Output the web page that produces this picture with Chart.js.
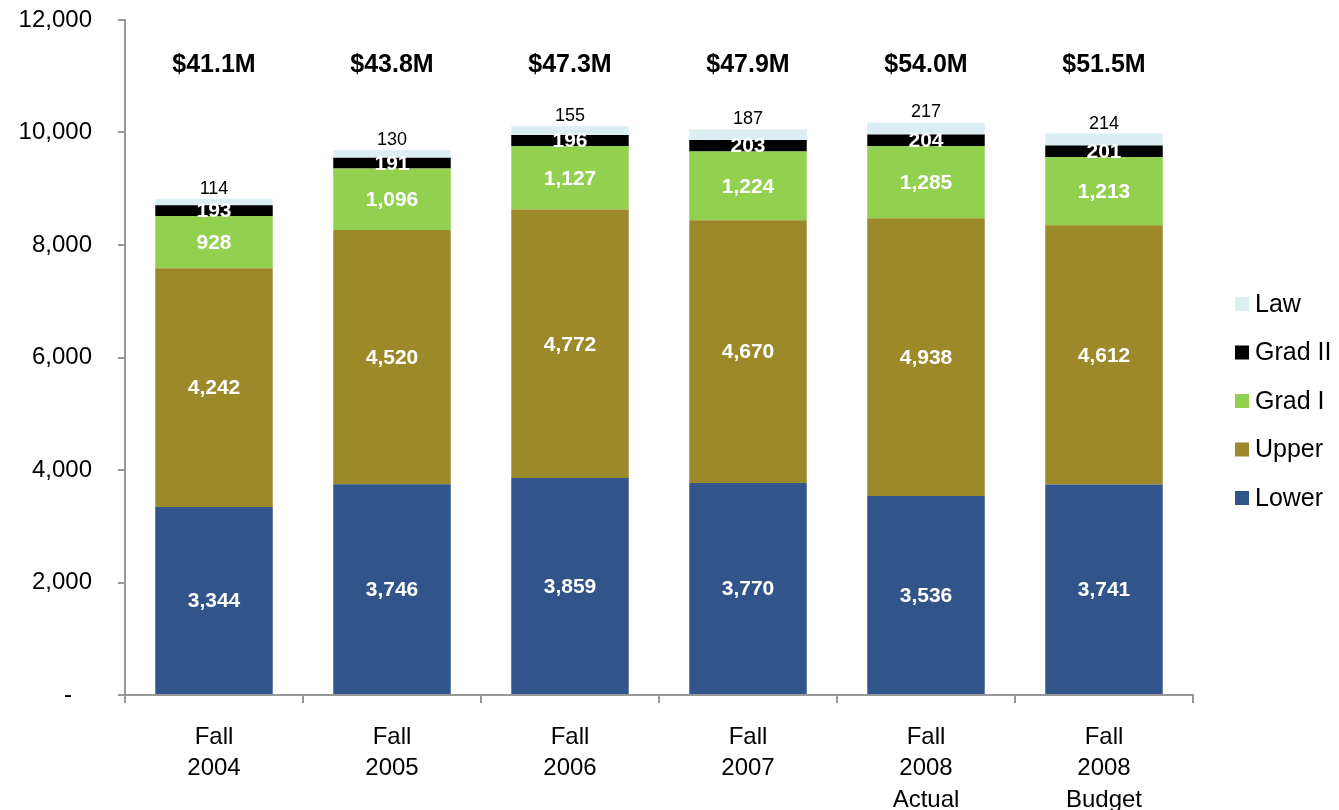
<!DOCTYPE html>
<html>
<head>
<meta charset="utf-8">
<script src="https://cdn.jsdelivr.net/npm/chart.js@4/dist/chart.umd.min.js"></script>
<style>
  html, body { margin: 0; padding: 0; background: #fff; }
  #wrap { width: 1339px; height: 810px; position: relative; }
</style>
</head>
<body>
<div id="wrap"><canvas id="chart"></canvas></div>
<script>
// data
const categories = [
  ['Fall', '2004'], ['Fall', '2005'], ['Fall', '2006'], ['Fall', '2007'],
  ['Fall', '2008', 'Actual'], ['Fall', '2008', 'Budget']
];
const lower = [3344, 3746, 3859, 3770, 3536, 3741];
const upper = [4242, 4520, 4772, 4670, 4938, 4612];
const gradI = [928, 1096, 1127, 1224, 1285, 1213];
const gradII = [193, 191, 196, 203, 204, 201];
const law = [114, 130, 155, 187, 217, 214];
const revenue = ['$41.1M', '$43.8M', '$47.3M', '$47.9M', '$54.0M', '$51.5M'];
const revenueLevel = 11200; // y value where the $ labels sit

const FONT = "'Liberation Sans', Arial, sans-serif";
const AXIS = '#999999';

// labels on the bars, $ totals on top, legend on the right
const labelPlugin = {
  id: 'labels',
  afterDatasetsDraw(chart) {
    const ctx = chart.ctx;
    ctx.save();
    ctx.textAlign = 'center';
    chart.data.datasets.forEach((ds, i) => {
      const meta = chart.getDatasetMeta(i);
      meta.data.forEach((bar, j) => {
        const txt = ds.data[j].toLocaleString('en-US');
        if (ds.label === 'Law') {
          ctx.fillStyle = '#000';
          ctx.font = '18px ' + FONT;
          ctx.textBaseline = 'bottom';
          ctx.fillText(txt, bar.x, bar.y - 1);
        } else {
          ctx.fillStyle = '#fff';
          ctx.font = 'bold 21px ' + FONT;
          ctx.textBaseline = 'middle';
          ctx.fillText(txt, bar.x, (bar.y + bar.base) / 2 + 1);
        }
      });
    });

    const yPos = chart.scales.y.getPixelForValue(revenueLevel);
    ctx.fillStyle = '#000';
    ctx.font = 'bold 25px ' + FONT;
    ctx.textBaseline = 'middle';
    chart.getDatasetMeta(0).data.forEach((bar, j) => {
      ctx.fillText(revenue[j], bar.x, yPos);
    });

    // legend, top item = last dataset
    ctx.textAlign = 'left';
    ctx.font = '25px ' + FONT;
    const sets = chart.data.datasets.slice().reverse();
    sets.forEach((ds, k) => {
      const cy = 304 + k * 48.5;
      ctx.fillStyle = ds.backgroundColor;
      ctx.fillRect(1235, cy - 7, 14, 14);
      ctx.fillStyle = '#000';
      ctx.fillText(ds.label, 1255, cy + 1);
    });
    ctx.restore();
  }
};

new Chart(document.getElementById('chart'), {
  type: 'bar',
  data: {
    labels: categories,
    datasets: [
      { label: 'Lower', data: lower, backgroundColor: '#31558A' },
      { label: 'Upper', data: upper, backgroundColor: '#9C8A2A' },
      { label: 'Grad I', data: gradI, backgroundColor: '#92D050' },
      { label: 'Grad II', data: gradII, backgroundColor: '#000000' },
      { label: 'Law', data: law, backgroundColor: '#DAEEF3' }
    ]
  },
  options: {
    responsive: true,
    maintainAspectRatio: false,
    animation: false,
    datasets: {
      bar: { barPercentage: 0.66, categoryPercentage: 1.0, borderWidth: 0 }
    },
    layout: { padding: { top: 20, right: 146, bottom: 0, left: 0 } },
    plugins: {
      legend: { display: false },
      tooltip: { enabled: false }
    },
    scales: {
      x: {
        stacked: true,
        grid: { offset: true, drawOnChartArea: false, drawTicks: true, tickLength: 8, color: AXIS, lineWidth: 2 },
        border: { display: true, color: AXIS, width: 2 },
        ticks: {
          color: '#000',
          padding: 19,
          maxRotation: 0,
          font: { family: FONT, size: 24, lineHeight: 1.3 }
        },
        afterFit(scale) {
          scale.height = 115;
          scale.paddingLeft = 0;
          scale.paddingRight = 0;
        }
      },
      y: {
        stacked: true,
        min: 0,
        max: 12000,
        grid: { drawOnChartArea: false, drawTicks: true, tickLength: 7, color: AXIS, lineWidth: 2 },
        border: { display: true, color: AXIS, width: 2 },
        ticks: {
          stepSize: 2000,
          color: '#000',
          padding: 26,
          font: { family: FONT, size: 24 },
          callback: v => v === 0 ? '-   ' : v.toLocaleString('en-US')
        },
        afterFit(scale) {
          scale.width = 125;
          scale.paddingTop = 0;
          scale.paddingBottom = 0;
        }
      }
    }
  },
  plugins: [labelPlugin]
});
</script>
</body>
</html>
